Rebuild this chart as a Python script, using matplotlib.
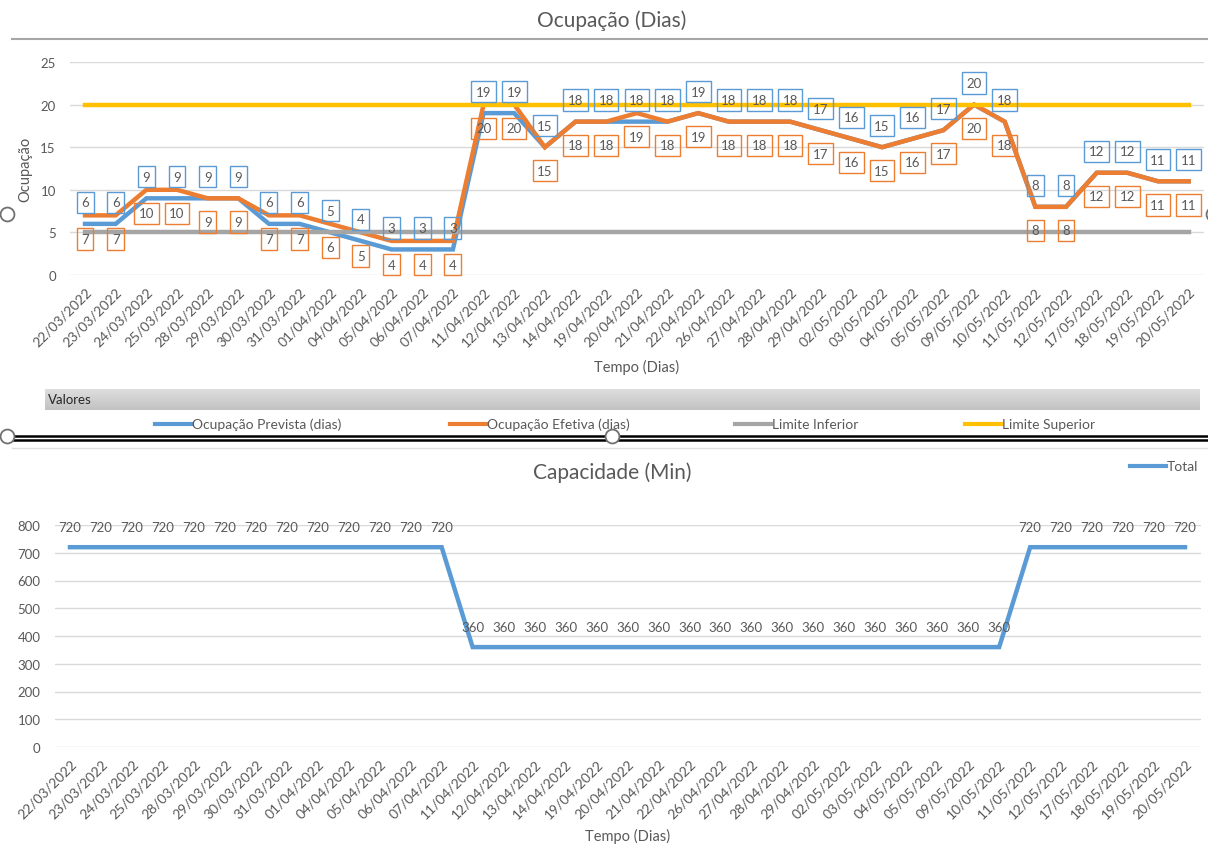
import numpy as np
import matplotlib
matplotlib.use('Agg')
import matplotlib.pyplot as plt
from matplotlib.lines import Line2D

plt.rcParams['font.family'] = ['Lato', 'DejaVu Sans']

#dates shown on both x axes
dates = ['22/03/2022', '23/03/2022', '24/03/2022', '25/03/2022', '28/03/2022', '29/03/2022',
         '30/03/2022', '31/03/2022', '01/04/2022', '04/04/2022', '05/04/2022', '06/04/2022',
         '07/04/2022', '11/04/2022', '12/04/2022', '13/04/2022', '14/04/2022', '19/04/2022',
         '20/04/2022', '21/04/2022', '22/04/2022', '26/04/2022', '27/04/2022', '28/04/2022',
         '29/04/2022', '02/05/2022', '03/05/2022', '04/05/2022', '05/05/2022', '09/05/2022',
         '10/05/2022', '11/05/2022', '12/05/2022', '17/05/2022', '18/05/2022', '19/05/2022',
         '20/05/2022']

prevista = [6, 6, 9, 9, 9, 9, 6, 6, 5, 4, 3, 3, 3, 19, 19, 15, 18, 18, 18, 18, 19, 18, 18, 18,
            17, 16, 15, 16, 17, 20, 18, 8, 8, 12, 12, 11, 11]
efetiva = [7, 7, 10, 10, 9, 9, 7, 7, 6, 5, 4, 4, 4, 20, 20, 15, 18, 18, 19, 18, 19, 18, 18, 18,
           17, 16, 15, 16, 17, 20, 18, 8, 8, 12, 12, 11, 11]
limite_inf = [5] * len(dates)
limite_sup = [20] * len(dates)

capacidade = [720] * 13 + [360] * 18 + [720] * 6

BLUE = '#5B9BD5'
ORANGE = '#ED7D31'
GRAY = '#A5A5A5'
YELLOW = '#FFC000'
TXT = '#595959'
GRID = '#D9D9D9'

W, H = 1208, 845
fig = plt.figure(figsize=(W / 100, H / 100), dpi=100)


def px_axes(x0, y0, x1, y1):
    #axes from pixel box (top-left origin)
    return fig.add_axes([x0 / W, 1 - y1 / H, (x1 - x0) / W, (y1 - y0) / H])


def fx(px):
    return px / W


def fy(py):
    return 1 - py / H


def style(ax):
    for s in ax.spines.values():
        s.set_visible(False)
    ax.grid(axis='y', color=GRID, lw=1)
    ax.set_axisbelow(True)
    ax.tick_params(length=0, colors=TXT, labelsize=9.5)
    ax.tick_params(axis='y', pad=10)
    ax.set_xticks(range(len(dates)))
    ax.set_xticklabels(dates, rotation=45, ha='right', rotation_mode='anchor', fontsize=10, color=TXT)


x = np.arange(len(dates))

#----- top chart -----
ax1 = px_axes(69.7, 63, 1204, 276)
style(ax1)
ax1.plot(x, prevista, color=BLUE, lw=3.2, solid_joinstyle='miter')
ax1.plot(x, efetiva, color=ORANGE, lw=3.2, solid_joinstyle='miter')
ax1.plot(x, limite_inf, color=GRAY, lw=3.2)
ax1.plot(x, limite_sup, color=YELLOW, lw=3.2)
ax1.set_xlim(-0.5, len(dates) - 0.5)
ax1.set_ylim(0, 25)
ax1.set_yticks(range(0, 26, 5))
ax1.tick_params(axis='x', pad=7)
ax1.set_xlabel('Tempo (Dias)', fontsize=10.5, color=TXT, labelpad=8)
ax1.set_ylabel('Ocupação', fontsize=10.5, color=TXT, labelpad=6)

for i in range(len(dates)):
    ax1.annotate(str(prevista[i]), (x[i], prevista[i]), xytext=(0, 15.5), textcoords='offset points',
                 ha='center', va='center', fontsize=9.5, color=TXT,
                 bbox=dict(boxstyle='square,pad=0.35', fc='none', ec=BLUE, lw=1))
    ax1.annotate(str(efetiva[i]), (x[i], efetiva[i]), xytext=(0, -17), textcoords='offset points',
                 ha='center', va='center', fontsize=9.5, color=TXT,
                 bbox=dict(boxstyle='square,pad=0.35', fc='none', ec=ORANGE, lw=1))

fig.text(fx(612), fy(21), 'Ocupação (Dias)', ha='center', va='center', fontsize=15, color=TXT)
fig.add_artist(Line2D([fx(12), 1], [fy(40)] * 2, color='#A6A6A6', lw=1.5))

#"Valores" band with gradient
grad = np.linspace(0.87, 0.76, 30).reshape(-1, 1)
bax = px_axes(45, 390, 1200, 411)
bax.imshow(np.dstack([grad, grad, grad]), aspect='auto', extent=(0, 1, 0, 1))
bax.set_axis_off()
fig.text(fx(48), fy(400), 'Valores', ha='left', va='center', fontsize=9.5, color='#262626')

#legend for top chart
leg_items = [(155, BLUE, 'Ocupação Prevista (dias)'), (450, ORANGE, 'Ocupação Efetiva (dias)'),
             (735, GRAY, 'Limite Inferior'), (965, YELLOW, 'Limite Superior')]
for lx, c, lab in leg_items:
    fig.add_artist(Line2D([fx(lx), fx(lx + 36)], [fy(425)] * 2, color=c, lw=3))
    fig.text(fx(lx + 37), fy(425), lab, ha='left', va='center', fontsize=10, color=TXT)

#selection outline of the chart object
fig.add_artist(Line2D([fx(12), 1], [fy(437)] * 2, color='black', lw=1.8))
fig.add_artist(Line2D([fx(12), 1], [fy(441)] * 2, color='black', lw=1.8))
fig.add_artist(Line2D([fx(12), 1], [fy(449)] * 2, color='#E0E0E0', lw=1))
for hx, hy in [(7, 437), (612, 437), (7, 215), (1213, 215)]:
    fig.add_artist(Line2D([fx(hx)], [fy(hy)], marker='o', ms=10, mfc='white', mec='#707070', mew=1.3))

#----- bottom chart -----
ax2 = px_axes(54.5, 526, 1200.5, 748)
style(ax2)
ax2.plot(x, capacidade, color=BLUE, lw=3.2, solid_joinstyle='miter')
ax2.set_xlim(-0.5, len(dates) - 0.5)
ax2.set_ylim(0, 800)
ax2.set_yticks(range(0, 801, 100))
ax2.tick_params(axis='x', pad=7)
ax2.set_xlabel('Tempo (Dias)', fontsize=10.5, color=TXT, labelpad=6)
for i in range(len(dates)):
    ax2.annotate(str(capacidade[i]), (x[i], capacidade[i]), xytext=(0, 14.5), textcoords='offset points',
                 ha='center', va='center', fontsize=9.5, color=TXT)

fig.text(fx(612), fy(473), 'Capacidade (Min)', ha='center', va='center', fontsize=15, color=TXT)
fig.add_artist(Line2D([fx(1130), fx(1166)], [fy(467)] * 2, color=BLUE, lw=3))
fig.text(fx(1167), fy(467), 'Total', ha='left', va='center', fontsize=10, color=TXT)

fig.savefig('out.png', dpi=100)
